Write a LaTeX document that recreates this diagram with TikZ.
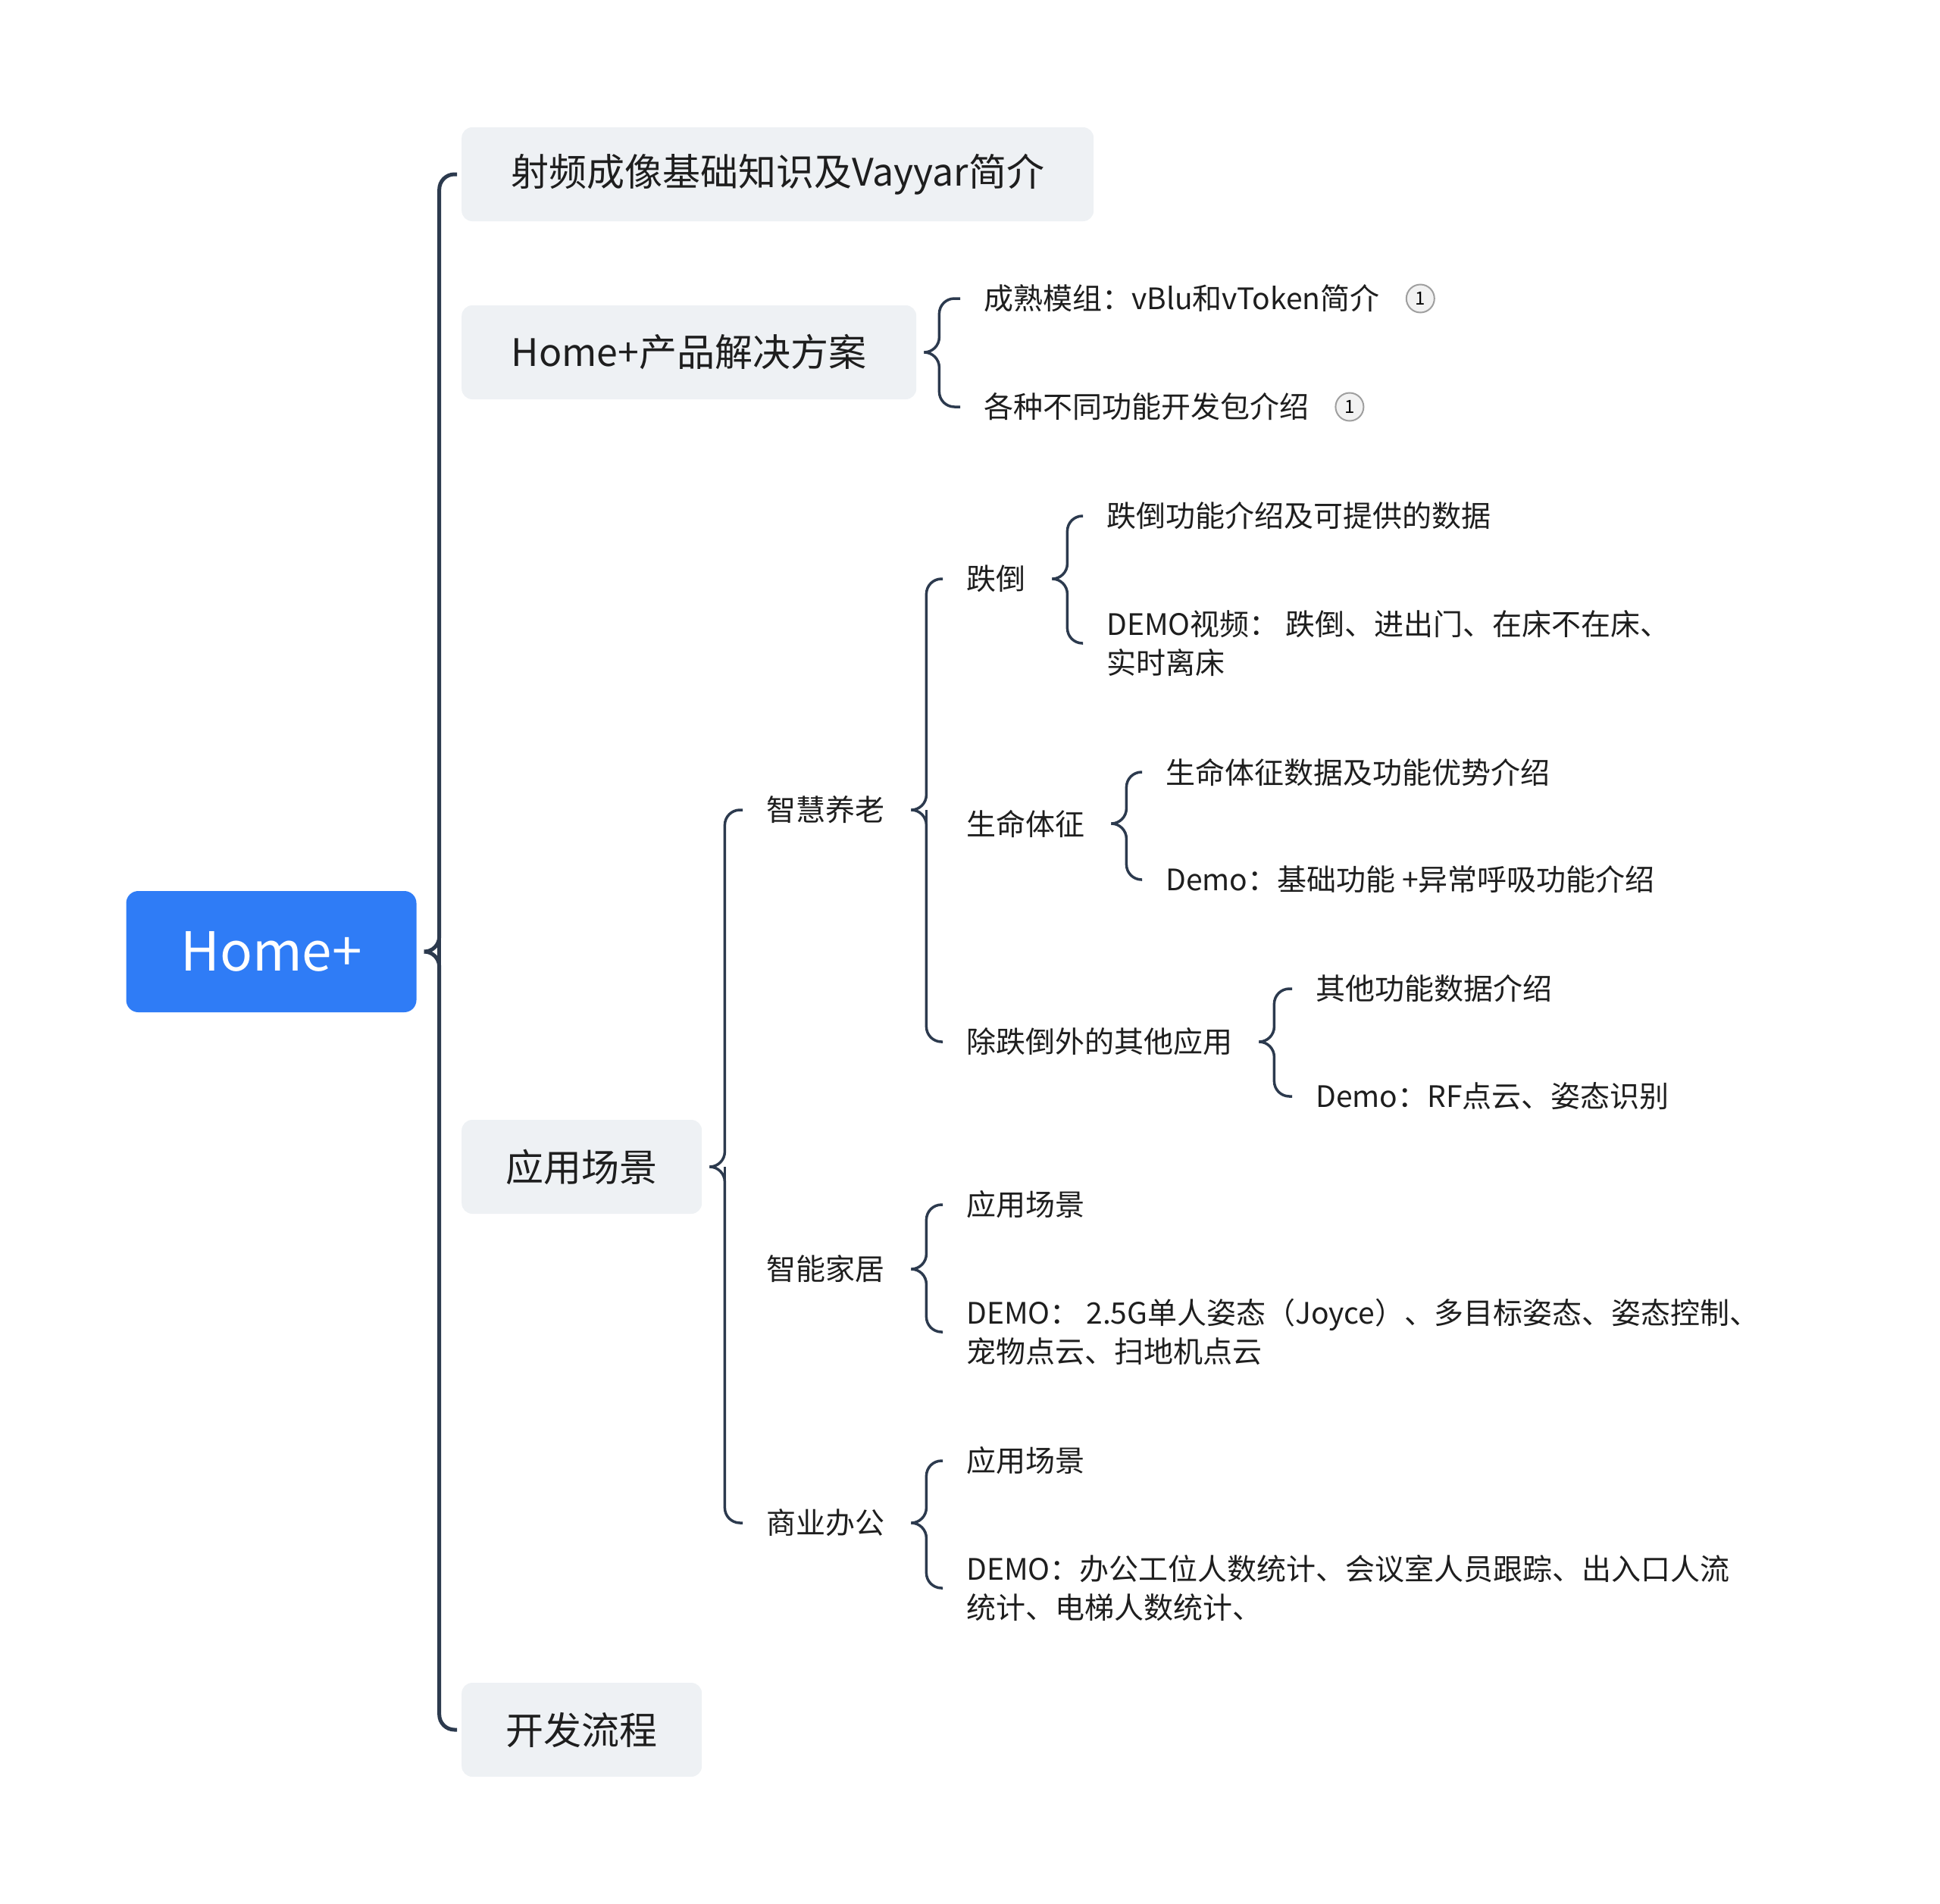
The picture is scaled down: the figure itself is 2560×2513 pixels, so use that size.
\documentclass[tikz,border=0pt]{standalone}
\usepackage{fontspec}
\setmainfont{Noto Sans CJK SC}
\usepackage{xcolor}
\usetikzlibrary{positioning, calc}

\definecolor{lanse}{HTML}{2F7CF6}
\definecolor{huibai}{HTML}{EEF1F4}
\definecolor{xianse}{HTML}{2C3A4E}
\definecolor{wenzi}{HTML}{1E1E1E}

\begin{document}
\begin{tikzpicture}[
    x=1pt, y=-1pt,
    gen/.style={fill=lanse, rounded corners=16pt, minimum width=383pt, minimum height=160pt,
                text=white, font=\fontsize{71}{80}\selectfont},
    zhu/.style={fill=huibai, rounded corners=14pt, minimum height=124pt, inner xsep=57pt,
                anchor=west, text=wenzi, font=\fontsize{50}{60}\selectfont},
    ye/.style={anchor=west, inner xsep=25pt, inner ysep=4pt, align=left, text=wenzi,
               font=\fontsize{39}{51}\selectfont},
    hao/.style={draw=gray!75, fill=gray!10, line width=2pt, circle, minimum size=37pt, inner sep=0pt,
                text=black, font=\fontsize{24}{24}\selectfont},
    kuohao/.style={draw=xianse, line width=3.5pt, rounded corners=20pt,
                   to path={([xshift=10pt]\tikztostart) -- ++(20pt,0) |- ([xshift=-6pt]\tikztotarget)}},
    zhong/.style={draw=xianse, line width=3.5pt,
                  to path={let \p1=([xshift=30pt]\tikztostart), \p2=(\tikztotarget) in (\p1) -- (\x1,\y2)}},
    cu/.style={line width=5pt}
  ]
    \useasboundingbox (0,0) rectangle (2560,2513);

    % root and first level
    \node[gen] (home) at (358,1256) {Home+};
    \node[zhu, minimum width=834pt] (shepin) at (609,230) {射频成像基础知识及Vayyar简介};
    \node[zhu, minimum width=600pt] (chanpin) at (609,465) {Home+产品解决方案};
    \node[zhu, minimum width=317pt] (changjing) at (609,1540) {应用场景};
    \node[zhu, minimum width=317pt] (liucheng) at (609,2283) {开发流程};

    % Home+ product
    \node[ye] (mozu) at (1273,394) {成熟模组：vBlu和vToken简介};
    \node[ye] (kaifa) at (1273,537) {各种不同功能开发包介绍};
    \node[hao, right=9pt of mozu] (mozuhao) {1};
    \node[hao, right=9pt of kaifa] (kaifahao) {1};

    % scenes
    \node[ye] (yanglao) at (986,1069) {智慧养老};
    \node[ye] (jiaju) at (986,1675) {智能家居};
    \node[ye] (bangong) at (986,2010) {商业办公};

    \node[ye] (diedao) at (1250,764) {跌倒};
    \node[ye] (tizheng) at (1250,1087) {生命体征};
    \node[ye] (qita) at (1250,1375) {除跌倒外的其他应用};

    \node[ye] (ddjs) at (1435,681) {跌倒功能介绍及可提供的数据};
    \node[ye] (ddsp) at (1435,849) {DEMO视频： 跌倒、进出门、在床不在床、\\实时离床};
    \node[ye] (tzjs) at (1513,1019) {生命体征数据及功能优势介绍};
    \node[ye] (tzdemo) at (1513,1161) {Demo：基础功能 +异常呼吸功能介绍};
    \node[ye] (qtjs) at (1711,1305) {其他功能数据介绍};
    \node[ye] (qtdemo) at (1711,1447) {Demo：RF点云、姿态识别};

    \node[ye] (jjcj) at (1250,1590) {应用场景};
    \node[ye] (jjdemo) at (1250,1758) {DEMO： 2.5G单人姿态（Joyce）、多目标姿态、姿态控制、\\宠物点云、扫地机点云};
    \node[ye] (bgcj) at (1250,1928) {应用场景};
    \node[ye] (bgdemo) at (1250,2096) {DEMO：办公工位人数统计、会议室人员跟踪、出入口人流\\统计、电梯人数统计、};

    % braces
    \draw[kuohao, cu] (home.east) to (shepin.west);
    \draw[zhong, cu] (home.east) to (chanpin.west);
    \draw[zhong, cu] (home.east) to (changjing.west);
    \draw[kuohao, cu] (home.east) to (liucheng.west);

    \draw[kuohao] (chanpin.east) to (mozu.west);
    \draw[kuohao] (chanpin.east) to (kaifa.west);

    \draw[kuohao] (changjing.east) to (yanglao.west);
    \draw[zhong] (changjing.east) to (jiaju.west);
    \draw[kuohao] (changjing.east) to (bangong.west);

    \draw[kuohao] (yanglao.east) to (diedao.west);
    \draw[zhong] (yanglao.east) to (tizheng.west);
    \draw[kuohao] (yanglao.east) to (qita.west);

    \draw[kuohao] (diedao.east) to (ddjs.west);
    \draw[kuohao] (diedao.east) to (ddsp.west);
    \draw[kuohao] (tizheng.east) to (tzjs.west);
    \draw[kuohao] (tizheng.east) to (tzdemo.west);
    \draw[kuohao] (qita.east) to (qtjs.west);
    \draw[kuohao] (qita.east) to (qtdemo.west);

    \draw[kuohao] (jiaju.east) to (jjcj.west);
    \draw[kuohao] (jiaju.east) to (jjdemo.west);
    \draw[kuohao] (bangong.east) to (bgcj.west);
    \draw[kuohao] (bangong.east) to (bgdemo.west);
  \end{tikzpicture}
\end{document}
